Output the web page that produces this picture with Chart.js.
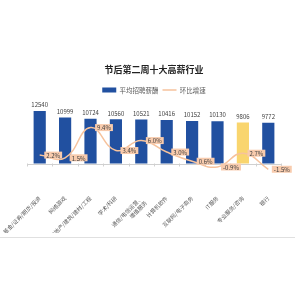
<!DOCTYPE html>
<html>
<head>
<meta charset="utf-8">
<script src="https://cdn.jsdelivr.net/npm/chart.js@4/dist/chart.umd.min.js"></script>
<style>
  html, body { margin: 0; padding: 0; background: #fff; }
  #wrap { width: 295px; height: 295px; }
</style>
</head>
<body>
<div id="wrap"><canvas id="barChart"></canvas></div>
<script>
const industries = [
    '基金/证券/期货/投资',
    '网络游戏',
    '房地产/建筑/建材/工程',
    '学术/科研',
    ['通信/电信运营、', '增值服务'],
    '计算机软件',
    '互联网/电子商务',
    'IT服务',
    '专业服务/咨询',
    '银行'
];
const avgSalary = [12540, 10999, 10724, 10560, 10521, 10416, 10152, 10130, 9806, 9772];
const growthRate = [2.2, 1.5, 9.4, 3.4, 6.0, 3.0, 0.6, -0.9, 2.7, -1.5];

const barBlue = '#2150a0';
const barYellow = '#f9d56e';
const lineColor = '#f6c29c';
const labelFill = '#f8cbad';
const fontFamily = '"Noto Sans CJK SC", "Noto Sans", sans-serif';

// value labels for bars and line points, plus the zero line
const labelPlugin = {
    id: 'labels',
    beforeDatasetsDraw(chart) {
        const ctx = chart.ctx;
        const y0 = chart.scales.y.getPixelForValue(0);
        const area = chart.chartArea;
        ctx.save();
        ctx.strokeStyle = '#d0d0d0';
        ctx.lineWidth = 1;
        ctx.beginPath();
        ctx.moveTo(area.left, Math.round(y0) + 0.5);
        ctx.lineTo(area.right, Math.round(y0) + 0.5);
        const step = (area.right - area.left) / industries.length;
        for (let i = 0; i <= industries.length; i++) {
            const x = Math.round(area.left + i * step) + 0.5;
            ctx.moveTo(x, y0);
            ctx.lineTo(x, y0 + 3);
        }
        ctx.stroke();
        ctx.restore();
    },
    afterDatasetsDraw(chart) {
        const ctx = chart.ctx;
        ctx.save();
        ctx.font = '6px ' + fontFamily;
        ctx.textAlign = 'center';
        ctx.textBaseline = 'bottom';
        ctx.fillStyle = '#404040';
        chart.getDatasetMeta(0).data.forEach((bar, i) => {
            ctx.fillText(String(avgSalary[i]), bar.x, bar.y - 3);
        });
        ctx.textBaseline = 'middle';
        chart.getDatasetMeta(1).data.forEach((pt, i) => {
            const txt = growthRate[i].toFixed(1) + '%';
            const w = ctx.measureText(txt).width + 4;
            const cx = pt.x + 13.5;
            ctx.fillStyle = labelFill;
            ctx.fillRect(cx - w / 2, pt.y - 3.5, w, 7);
            ctx.fillStyle = '#404040';
            ctx.fillText(txt, cx, pt.y + 0.5);
        });
        // bottom frame line
        ctx.strokeStyle = '#e0e0e0';
        ctx.beginPath();
        ctx.moveTo(0, 237.5);
        ctx.lineTo(chart.width, 237.5);
        ctx.stroke();
        ctx.restore();
    }
};

function createChart() {
    const ctx = document.getElementById('barChart').getContext('2d');
    new Chart(ctx, {
        type: 'bar',
        data: {
            labels: industries,
            datasets: [{
                type: 'bar',
                label: '平均招聘薪酬',
                data: avgSalary,
                backgroundColor: avgSalary.map((v, i) => i === 8 ? barYellow : barBlue),
                categoryPercentage: 0.48,
                barPercentage: 1,
                yAxisID: 'y',
                order: 1
            }, {
                type: 'line',
                label: '环比增速',
                data: growthRate,
                borderColor: lineColor,
                backgroundColor: lineColor,
                borderWidth: 1.5,
                pointRadius: 0,
                tension: 0.45,
                yAxisID: 'y1',
                order: 0
            }]
        },
        options: {
            responsive: true,
            maintainAspectRatio: false,
            animation: false,
            layout: { padding: { top: 64, left: 27, right: 14, bottom: 62 } },
            plugins: {
                title: {
                    display: true,
                    text: '节后第二周十大高薪行业',
                    color: '#222',
                    font: { family: fontFamily, size: 9, weight: 'bold' },
                    padding: { top: 0, bottom: 8 }
                },
                legend: {
                    labels: {
                        usePointStyle: true,
                        pointStyleWidth: 14,
                        boxHeight: 5,
                        color: '#595959',
                        font: { family: fontFamily, size: 6.5 },
                        padding: 4,
                        generateLabels(chart) {
                            return chart.data.datasets.map((ds, i) => ({
                                text: ds.label,
                                fillStyle: i === 0 ? barBlue : lineColor,
                                strokeStyle: i === 0 ? barBlue : lineColor,
                                lineWidth: i === 0 ? 0 : 1.5,
                                pointStyle: i === 0 ? 'rect' : 'line',
                                fontColor: '#595959',
                                datasetIndex: i
                            }));
                        }
                    }
                },
                tooltip: { enabled: false }
            },
            scales: {
                x: {
                    grid: { display: false },
                    border: { display: false },
                    ticks: {
                        color: '#595959',
                        font: { family: fontFamily, size: 5.5 },
                        minRotation: 45,
                        maxRotation: 45,
                        autoSkip: false,
                        padding: 12
                    },
                    afterFit(scale) {
                        scale.height = 58;
                        scale.paddingLeft = 0;
                        scale.paddingRight = 0;
                    }
                },
                y: { display: false, min: -2750, max: 14400 },
                y1: { display: false, min: -3, max: 15.75 }
            }
        },
        plugins: [labelPlugin]
    });
}

window.onload = createChart;
</script>
</body>
</html>
